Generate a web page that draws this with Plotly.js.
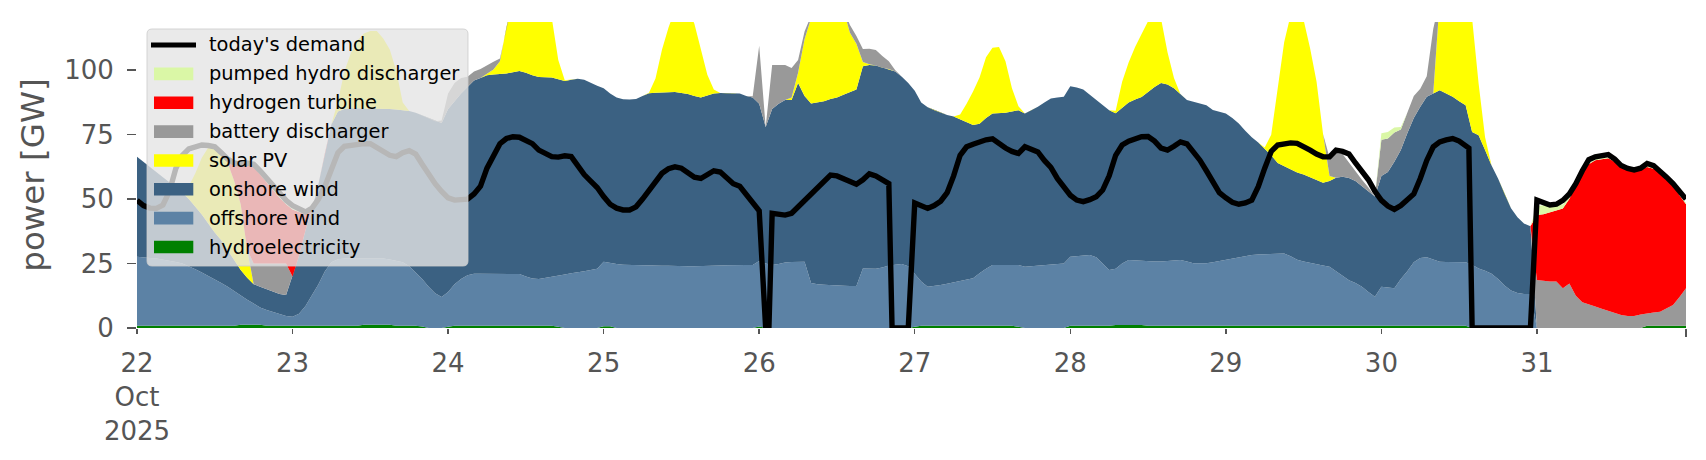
<!DOCTYPE html>
<html>
<head>
<meta charset="utf-8">
<script src="https://cdn.plot.ly/plotly-3.0.1.min.js"></script>
<style>
html, body { margin: 0; padding: 0; background: #ffffff; }
#chart { width: 1706px; height: 460px; }
</style>
</head>
<body>
<div id="chart"></div>
<script>
// ---------------- data (GW, hourly, 22 Oct 2025 00:00 .. 31 Oct 2025 23:00) ----------------
const startDay = [2025, 9, 22]; // year, month index, day (UTC)

const hydroelectricity = [
  0.9,0.9,0.9,0.9,0.9,0.9,0.9,0.9,0.9,0.9,0.9,0.9,0.9,0.9,0.9,0.9,1.3,1.3,1.3,1.3,0.9,0.9,0.9,0.9,
  0.9,0.9,0.9,0.9,0.9,0.9,0.9,0.9,0.9,0.9,0.9,1.3,1.3,1.3,1.3,1.3,0.9,0.9,0.9,0.9,0.6,0,0,0,
  0.5,0.9,0.9,0.9,0.9,0.9,0.9,0.9,0.9,0.9,0.9,0.9,0.9,0.9,0.9,0.9,0.9,0.5,0,0,0,0,0,0,
  0.7,0.7,0,0,0,0,0,0,0,0,0,0,0,0,0,0,0,0,0,0,0,0,0,0,
  0.6,0,0,0,0,0,0,0,0,0,0,0,0,0,0,0,0,0,0,0,0,0,0,0,
  0.5,0.9,0.9,0.9,0.9,0.9,0.9,0.9,0.9,0.9,0.9,0.9,0.9,0.9,0.9,0.9,0.5,0,0,0,0,0,0,0,
  0.9,0.9,0.9,0.9,0.9,0.9,0.9,1.2,1.2,1.2,1.2,1.2,0.9,0.9,0.9,0.9,0.9,0.9,0.9,0.9,0.9,0.9,0.9,0.9,
  0.9,0.9,0.9,0.9,0.9,0.9,0.9,0.9,0.9,0.9,0.9,0.9,0.9,0.9,0.9,0.9,0.9,0.9,0.9,0.9,0.9,0.9,0.9,0.9,
  0.9,0.9,0.9,0.9,0.9,0.9,0.9,0.9,0.9,0.9,0.9,0.9,0.9,0.9,0,0,0,0,0,0,0,0,0,0,
  0,0,0,0,0,0,0,0,0,0,0,0,0,0,0,0,0,0.9,0.9,0.9,0.9,0.9,0.9,0.9
];

const offshoreWind = [
  26.7,26.6,26.3,26.1,25.7,25.3,24.7,24.1,23.1,21.9,20.6,19.3,18.1,16.6,15.1,13.4,11.2,9.7,8.2,6.7,6.1,5.3,4.5,3.8,
  3.5,4.6,7.6,11.6,16.1,21.1,24.6,25.8,26.1,26.1,26.1,25.7,25.7,25.7,25.7,25.3,25.1,24.6,23.1,20.6,18.4,16,13.5,12,
  13.5,16.1,18.1,19.6,20.1,20.1,20.1,20.1,20.1,20.1,20.1,20,19.1,18.3,18.1,18.6,19.1,19.8,20.8,21.2,21.5,22,22.5,23,
  25,24.5,24.8,24.5,24.4,24.3,24.3,24.2,24.2,24.1,24.1,24,24,24,24,24,24,24.1,24.2,24.3,24.4,24.4,24.4,24.4,
  25.4,25,24.4,24.8,25.4,25.6,25.7,25.7,17.5,17,16.8,16.6,16.5,16.4,16.3,16.3,23.1,23.1,23,23.5,24.2,24.5,24.8,24,
  20.5,17.1,15.1,15.4,15.8,16.3,16.8,17.3,17.9,18.4,20.3,22.1,23.5,23.5,23.5,23.5,23.9,23.8,24,24.2,24.4,24.6,24.8,25,
  26.7,27,27.2,27.4,26.5,24.1,21.6,21.8,23.8,25.2,25,24.8,25,24.9,24.9,25.1,25.3,25.5,24.9,24.2,24.2,24.2,24.6,25.1,
  25.5,26.1,26.6,27.1,27.4,27.6,27.7,27.8,27.9,28,26.9,25.6,24.9,24.3,23.7,23.3,22.9,21.1,19.3,17.6,16.6,15.1,13.1,11.2,
  15.1,14.8,14.5,18.1,21.1,24.6,26.3,26.5,25.6,24.8,24.7,24.7,24.6,24.6,24.5,23.1,22.2,21,19,16.5,14.5,13.6,13.2,13.2,
  0,0,0,0,0,0,0,0,0,0,0,0,0,0,0,0,0,0,0,0,0,0,0,0
];

const onshoreWind = [
  38.8,37,35.3,33.5,31.9,30.3,28.9,27.5,26,24.2,22.5,20.3,18,16.5,14,11.7,10,8.5,7.5,8,8,7.8,7.8,8.1,
  15.6,22.5,29.5,33.5,39,46,53.5,57.3,58,58.2,58.2,58.2,58.2,58.2,58.2,58.4,58.8,59,60.2,62,63.5,65.5,66.7,67.5,
  71,71,72,73,75,76,77,77.3,77.5,77.7,78.2,78.8,79,78.8,78.4,77.8,77.2,76.2,75,75.1,75.2,74.3,72.5,71,
  67.3,65.8,64.6,64.2,64.2,64.5,65.7,66.9,67.1,67.3,67.4,67.5,67.2,66.8,66,65.4,66.2,66.9,67,66.9,66.8,66.6,65.6,65,
  61,53,60.6,62.2,63,62.8,69.3,64.3,69.6,70.5,71.2,72.2,72.9,74.1,75.2,76.2,78.4,78.9,78.8,77.5,76.3,75,72.7,71,
  71,69.5,69.6,68.2,66.8,65.4,64.3,62.6,60.9,59.4,58,58.5,58.8,58.9,59.1,59.6,60.1,59.4,60.5,61.6,63.1,64.4,64.6,64.7,
  66.2,65.4,64.4,62.2,61,61.3,62,60.3,60.5,61.1,62.4,63.6,65.6,67.7,69.2,68.5,66.8,64.1,62.6,62.7,61.9,61.3,59.1,57.8,
  56.8,54.5,51.8,48.5,45.7,43.5,40.9,38.3,35.2,33.9,33.7,33.8,33.7,33.3,32.9,32.1,33.2,36.3,38.5,39.7,39.5,39,39,38.9,
  43,44.8,49.1,50,53.5,56,58.6,62.3,64.5,66.5,65.4,64.1,62.5,60.9,51.5,51.7,46.8,42,39,35.5,32,29.4,27.3,26.3,
  0,0,0,0,0,0,0,0,0,0,0,0,0,0,0,0,0,0,0,0,0,0,0,0
];

const solarPV = [
  0,0,0,0,0,0,0,0.5,5,13,22,29.5,33.5,34,34,31,25.5,11,0,0,0,0,0,0,
  0,0,0,0,0,0,0,4,14.5,21.5,26.3,29,30,30,27.1,23,15,3,0,0,0,0,0,0,
  0,0,0,0,0,0,0.5,2,5,18,28,31,32,32,30,27,23,7.5,0.3,0,0,0,0,0,
  0,0,0,0,0,0,0,0.2,5.5,16.5,25,32,35,33,28,18.5,8,1.5,0,0,0,0,0,0,
  0,0,0,0,0,1,4,22,33,35,37,37,36,33,23,17.8,1.7,0.3,0,0,0,0,0,0,
  0,0,0,0,0,0,0,2,7.3,13,18,23.5,25.5,25.7,20,9,1.5,0,0,0,0,0,0,0,
  0,0,0,0,0,0,0,1,10,15.5,20.4,24.4,27.5,30.5,25,12.5,4,0.2,0,0,0,0,0,0,
  0,0,0,0,0,0,0.5,8,30,48,60,62,60,50,38,19,2,0,0,0,0,0,0,0,
  0,0,0,0,0,0,0,0,0,35,36,35,34,33,44,20,5,0,0,0,0,0,0,0,
  0,0,0,0,0,0,0,0,0,0,0,0,0,0,0,0,0,0,0,0,0,0,0,0
];

const batteryDischarger = [
  0,0,0,0,0,0,0,0,0,0,0,0,0,0,0,0,0,0,8,9,10,11,11.8,12.2,
  0,0,0,0,0,0,0,0,0,0,0,0,0,0,0,0,0,0,0,0,0,0,0,1,
  6,7,6,4,3.5,3.5,3.5,3,1,0,0,0,0,0,0,0,0,0,0,0,0,0,0,0,
  0,0,0,0,0,0,0,0,0,0,0,0,0,0,0,0,0,0,0,0,0,0,0,0.5,
  22.5,0,17,15,13.6,11.5,5,3,1,0.5,0.5,0.5,0.5,0.5,3,3,5,6,6,4.5,3,0.5,0,0,
  0,0,0,0,0,0,0,0,0,0,0,0,0,0,0,0,0,0,0,0,0,0,0,0,
  0,0,0,0,0,0,0,0,0,0,0,0,0,0,0,0,0,0,0,0,0,0,0,0,
  0,0,0,0,0,0,0,0,0,0,0,0,0,0,0,0,7,9.7,8.8,5.8,4,2.5,1.5,0,
  14,13,11.3,8,8,8.5,7,8,25,0,0,0,0,0,0,0,0,0,0,0,0,0,0,0,
  18.6,18.3,18,18,15.4,17.3,12.5,10,9,8.3,7.5,6.6,5.8,5,4.7,4.7,5.2,4.8,5.1,5.4,6.6,8,11.1,14.5
];

const hydrogenTurbine = [
  0,0,0,0,0,0,0,0,0,0,0,0,0,0,1.2,6.5,15,32.5,37.5,34.5,31.5,28.5,25.5,23,
  26,17,6,0,0,0,0,0,0,0,0,0,0,0,0,0,0,0,0,0,0,0,0,0,
  0,0,0,0,0,0,0,0,0,0,0,0,0,0,0,0,0,0,0,0,0,0,0,0,
  0,0,0,0,0,0,0,0,0,0,0,0,0,0,0,0,0,0,0,0,0,0,0,0,
  0,0,0,0,0,0,0,0,0,0,0,0,0,0,0,0,0,0,0,0,0,0,0,0,
  0,0,0,0,0,0,0,0,0,0,0,0,0,0,0,0,0,0,0,0,0,0,0,0,
  0,0,0,0,0,0,0,0,0,0,0,0,0,0,0,0,0,0,0,0,0,0,0,0,
  0,0,0,0,0,0,0,0,0,0,0,0,0,0,0,0,0,0,0,0,0,0,0,0,
  0,0,0,0,0,0,0,0,0,0,0,0,0,0,0,0,0,0,0,0,0,0,0,0,
  25.2,25.8,26.8,27.6,31,32.7,42.5,50.5,54.5,56.8,58,59.2,58.7,57.8,57,56.1,56.3,56.8,55.8,54.9,51.2,47.1,39.5,32.6
];

const pumpedHydroDischarger = [
  0,0,0,0,0,0,0,0,0,0,0,0,0,0,0.3,0.5,0.5,1,1,1.5,1.5,1.5,1.5,1.5,
  1.5,1,1,0,0,0,0,0,0,0,0,0,0,0,0,0,0,0,0,0,0,0,0,0,
  0,0,0,0,0,0,0,0,0,0,0,0,0,0,0,0,0,0,0,0,0,0,0,0,
  0,0,0,0,0,0,0,0,0,0,0,0,0,0,0,0,0,0,0,0,0,0,0,0,
  0,0,0,0,0,0,0,0,0,0,0,0,0,0,0,0,0,0,0,0,0,0,0,0,
  0,0,0,0,0,0,0,0,0,0,0,0,0,0,0,0,0,0,0,0,0,0,0,0,
  0,0,0,0,0,0,0,0,0,0,0,0,0,0,0,0,0,0,0,0,0,0,0,0,
  0,0,0,0,0,0,0,0,0,0,0,0,0,0,0,0,0,0,0,0,0,0,0,0,
  2.5,2.5,2,1,0,0,0,0,0,0,0,0,0,0,0,0,0,0,0,0,0,0,0,0,
  3.5,3.5,3.2,2.5,1.5,0.8,0.5,0.5,0.5,0.4,0.4,0.4,0.4,0.4,0.4,0.4,0.4,0.4,0.4,0.4,0.5,0.5,0.5,0.5
];

const todaysDemand = [
  49.5,47.5,46.5,46.4,47.7,53,62,67,69.5,70.5,71,70.8,70.3,68,65.5,64,63.5,64,63.5,61,58,55,52,49.5,
  47.5,46,45,46.5,50,55,62,68,70.5,71,71.5,71.5,71.5,70,68.5,67,66.5,68,68.8,67.5,63.5,59.5,56,53,
  50.5,49.6,49.6,50,52,55,62,67,71.5,73.5,74.2,74,73,71.5,69,67.5,66.5,66.3,66.8,66.5,63,59.5,57,54.5,
  51,48,46.5,45.8,45.8,47,50,53.5,57,60,61.8,62.5,62,60.5,58.5,58,59.5,61,60.5,58,56,55,52,48.5,
  45.5,0,44.5,44,43.8,44.5,47,49.5,52,55,57.5,59.3,59,58,56.5,55.8,57.5,59.8,59,57.7,56,0,0,0,
  48.5,47.5,46.4,47.5,49.2,52.5,59,67,70.3,71.3,72.2,73,73.4,71.5,69.8,68.5,67.7,70.3,69.5,68.3,65,62.3,58,54.5,
  51.5,49.6,49,49.8,50.9,53.5,59,67,71,72.5,73.3,74.2,74.3,72.5,69.8,69,70.5,72.2,71.4,68.5,65.1,61,57,52.5,
  50.5,48.8,48,48.5,49.6,54.8,62,68.5,71,71.5,71.8,71.6,70.5,69,67.5,66.4,66.4,69,68.5,67.5,64,61,57.5,53,
  49.5,47.3,46,47.5,49.5,52,58,65,70.3,72.2,73,73.5,72.5,70.8,0,0,0,0,0,0,0,0,0,0,
  49.6,48.5,47.7,48,49.5,52,56,61,65.3,66.4,67,67.3,65.5,63,61.9,61.3,62,63.8,63,61,58.5,56,53,50
];
// additional half-hour demand readings (hours after start, GW)
const demandExtraHours = [97.5, 116.5, 205.5];
const demandExtraGW = [0, 0, 69.8];

const dayTickDates = ['2025-10-22','2025-10-23','2025-10-24','2025-10-25','2025-10-26',
                      '2025-10-27','2025-10-28','2025-10-29','2025-10-30','2025-10-31'];
const dayTickLabels = ['22<br>Oct<br>2025','23','24','25','26','27','28','29','30','31'];
const yTickValues = [0, 25, 50, 75, 100];

// ---------------- build ----------------
const W = 1706, H = 460;
const M = { l: 137, r: 20, t: 22, b: 132 };
const FONT = 'DejaVu Sans, Verdana, sans-serif';
const GREY = '#555555';

const t0 = Date.UTC(startDay[0], startDay[1], startDay[2]);
function stamp(h) {
  return new Date(t0 + h * 3600000).toISOString().slice(0, 16).replace('T', ' ');
}
const times = onshoreWind.map((_, i) => stamp(i));

const demandPts = todaysDemand.map((v, i) => [i, v])
  .concat(demandExtraHours.map((h, k) => [h, demandExtraGW[k]]))
  .sort((a, b) => a[0] - b[0]);

const stackDefs = [
  { name: 'hydroelectricity', y: hydroelectricity, color: '#008000' },
  { name: 'offshore wind', y: offshoreWind, color: '#5c82a5' },
  { name: 'onshore wind', y: onshoreWind, color: '#3b6182' },
  { name: 'solar PV', y: solarPV, color: '#ffff00' },
  { name: 'battery discharger', y: batteryDischarger, color: '#999999' },
  { name: 'hydrogen turbine', y: hydrogenTurbine, color: '#ff0000' },
  { name: 'pumped hydro discharger', y: pumpedHydroDischarger, color: '#daf7a6' }
];

const traces = stackDefs.map(d => ({
  type: 'scatter', mode: 'lines', name: d.name,
  x: times, y: d.y, stackgroup: 'gen',
  fillcolor: d.color, line: { width: 0, color: d.color },
  showlegend: false, hoverinfo: 'x+y+name'
}));
traces.push({
  type: 'scatter', mode: 'lines', name: "today's demand",
  x: demandPts.map(p => stamp(p[0])), y: demandPts.map(p => p[1]),
  line: { color: '#000000', width: 5.4 }, showlegend: false
});

// pixel -> paper helpers for the hand-drawn legend
const PW = W - M.l - M.r, PH = H - M.t - M.b;
const X = px => (px - M.l) / PW;
const Y = py => (H - M.b - py) / PH;

function roundRect(x0, y0, x1, y1, r) {
  return `M${X(x0 + r)},${Y(y0)} L${X(x1 - r)},${Y(y0)} Q${X(x1)},${Y(y0)} ${X(x1)},${Y(y0 + r)} ` +
         `L${X(x1)},${Y(y1 - r)} Q${X(x1)},${Y(y1)} ${X(x1 - r)},${Y(y1)} ` +
         `L${X(x0 + r)},${Y(y1)} Q${X(x0)},${Y(y1)} ${X(x0)},${Y(y1 - r)} ` +
         `L${X(x0)},${Y(y0 + r)} Q${X(x0)},${Y(y0)} ${X(x0 + r)},${Y(y0)} Z`;
}

const legendBox = { x0: 147, y0: 29, x1: 468, y1: 266 };
const rowTop = 45, rowStep = 28.86;
const shapes = [{
  type: 'path', xref: 'paper', yref: 'paper', layer: 'above',
  path: roundRect(legendBox.x0, legendBox.y0, legendBox.x1, legendBox.y1, 5),
  fillcolor: 'rgba(229,229,229,0.8)', line: { color: 'rgba(204,204,204,0.8)', width: 1 }
}];
const annotations = [];
const legendOrder = [traces[traces.length - 1]].concat(stackDefs.slice().reverse());
legendOrder.forEach((item, i) => {
  const cy = rowTop + i * rowStep;
  if (i === 0) {
    shapes.push({ type: 'line', xref: 'paper', yref: 'paper', layer: 'above',
      x0: X(151), x1: X(196), y0: Y(cy), y1: Y(cy), line: { color: '#000000', width: 5 } });
  } else {
    shapes.push({ type: 'rect', xref: 'paper', yref: 'paper', layer: 'above',
      x0: X(154), x1: X(193.3), y0: Y(cy - 6.3), y1: Y(cy + 6.3),
      fillcolor: item.color, line: { width: 0 } });
  }
  annotations.push({ xref: 'paper', yref: 'paper', x: X(207), y: Y(cy),
    xanchor: 'left', yanchor: 'middle', showarrow: false, text: item.name,
    font: { family: FONT, size: 19.4, color: '#000000' } });
});
// closing tick at the right end of the time axis
shapes.push({ type: 'line', xref: 'paper', yref: 'paper', layer: 'above',
  x0: 1, x1: 1, y0: Y(329), y1: Y(337), line: { color: GREY, width: 2 } });

const layout = {
  width: W, height: H, margin: M,
  paper_bgcolor: '#ffffff', plot_bgcolor: '#ffffff',
  font: { family: FONT, color: GREY },
  showlegend: false,
  xaxis: {
    type: 'date', range: [stamp(0), stamp(onshoreWind.length - 1)],
    tickmode: 'array', tickvals: dayTickDates, ticktext: dayTickLabels,
    ticks: 'outside', ticklen: 5, tickwidth: 1.5, tickcolor: GREY,
    ticklabelstandoff: 7,
    tickfont: { family: FONT, size: 26, color: GREY },
    showgrid: false, zeroline: false, showline: false, automargin: false
  },
  yaxis: {
    range: [0, 118.7], tickmode: 'array', tickvals: yTickValues,
    ticks: 'outside', ticklen: 9, tickwidth: 1.6, tickcolor: GREY,
    ticklabelstandoff: 8,
    tickfont: { family: FONT, size: 26, color: GREY },
    title: { text: 'power [GW]', font: { family: FONT, size: 32.5, color: GREY }, standoff: 9 },
    showgrid: false, zeroline: false, showline: false, automargin: false
  },
  shapes: shapes,
  annotations: annotations
};

Plotly.newPlot('chart', traces, layout, { displayModeBar: false, staticPlot: true });
</script>
</body>
</html>
